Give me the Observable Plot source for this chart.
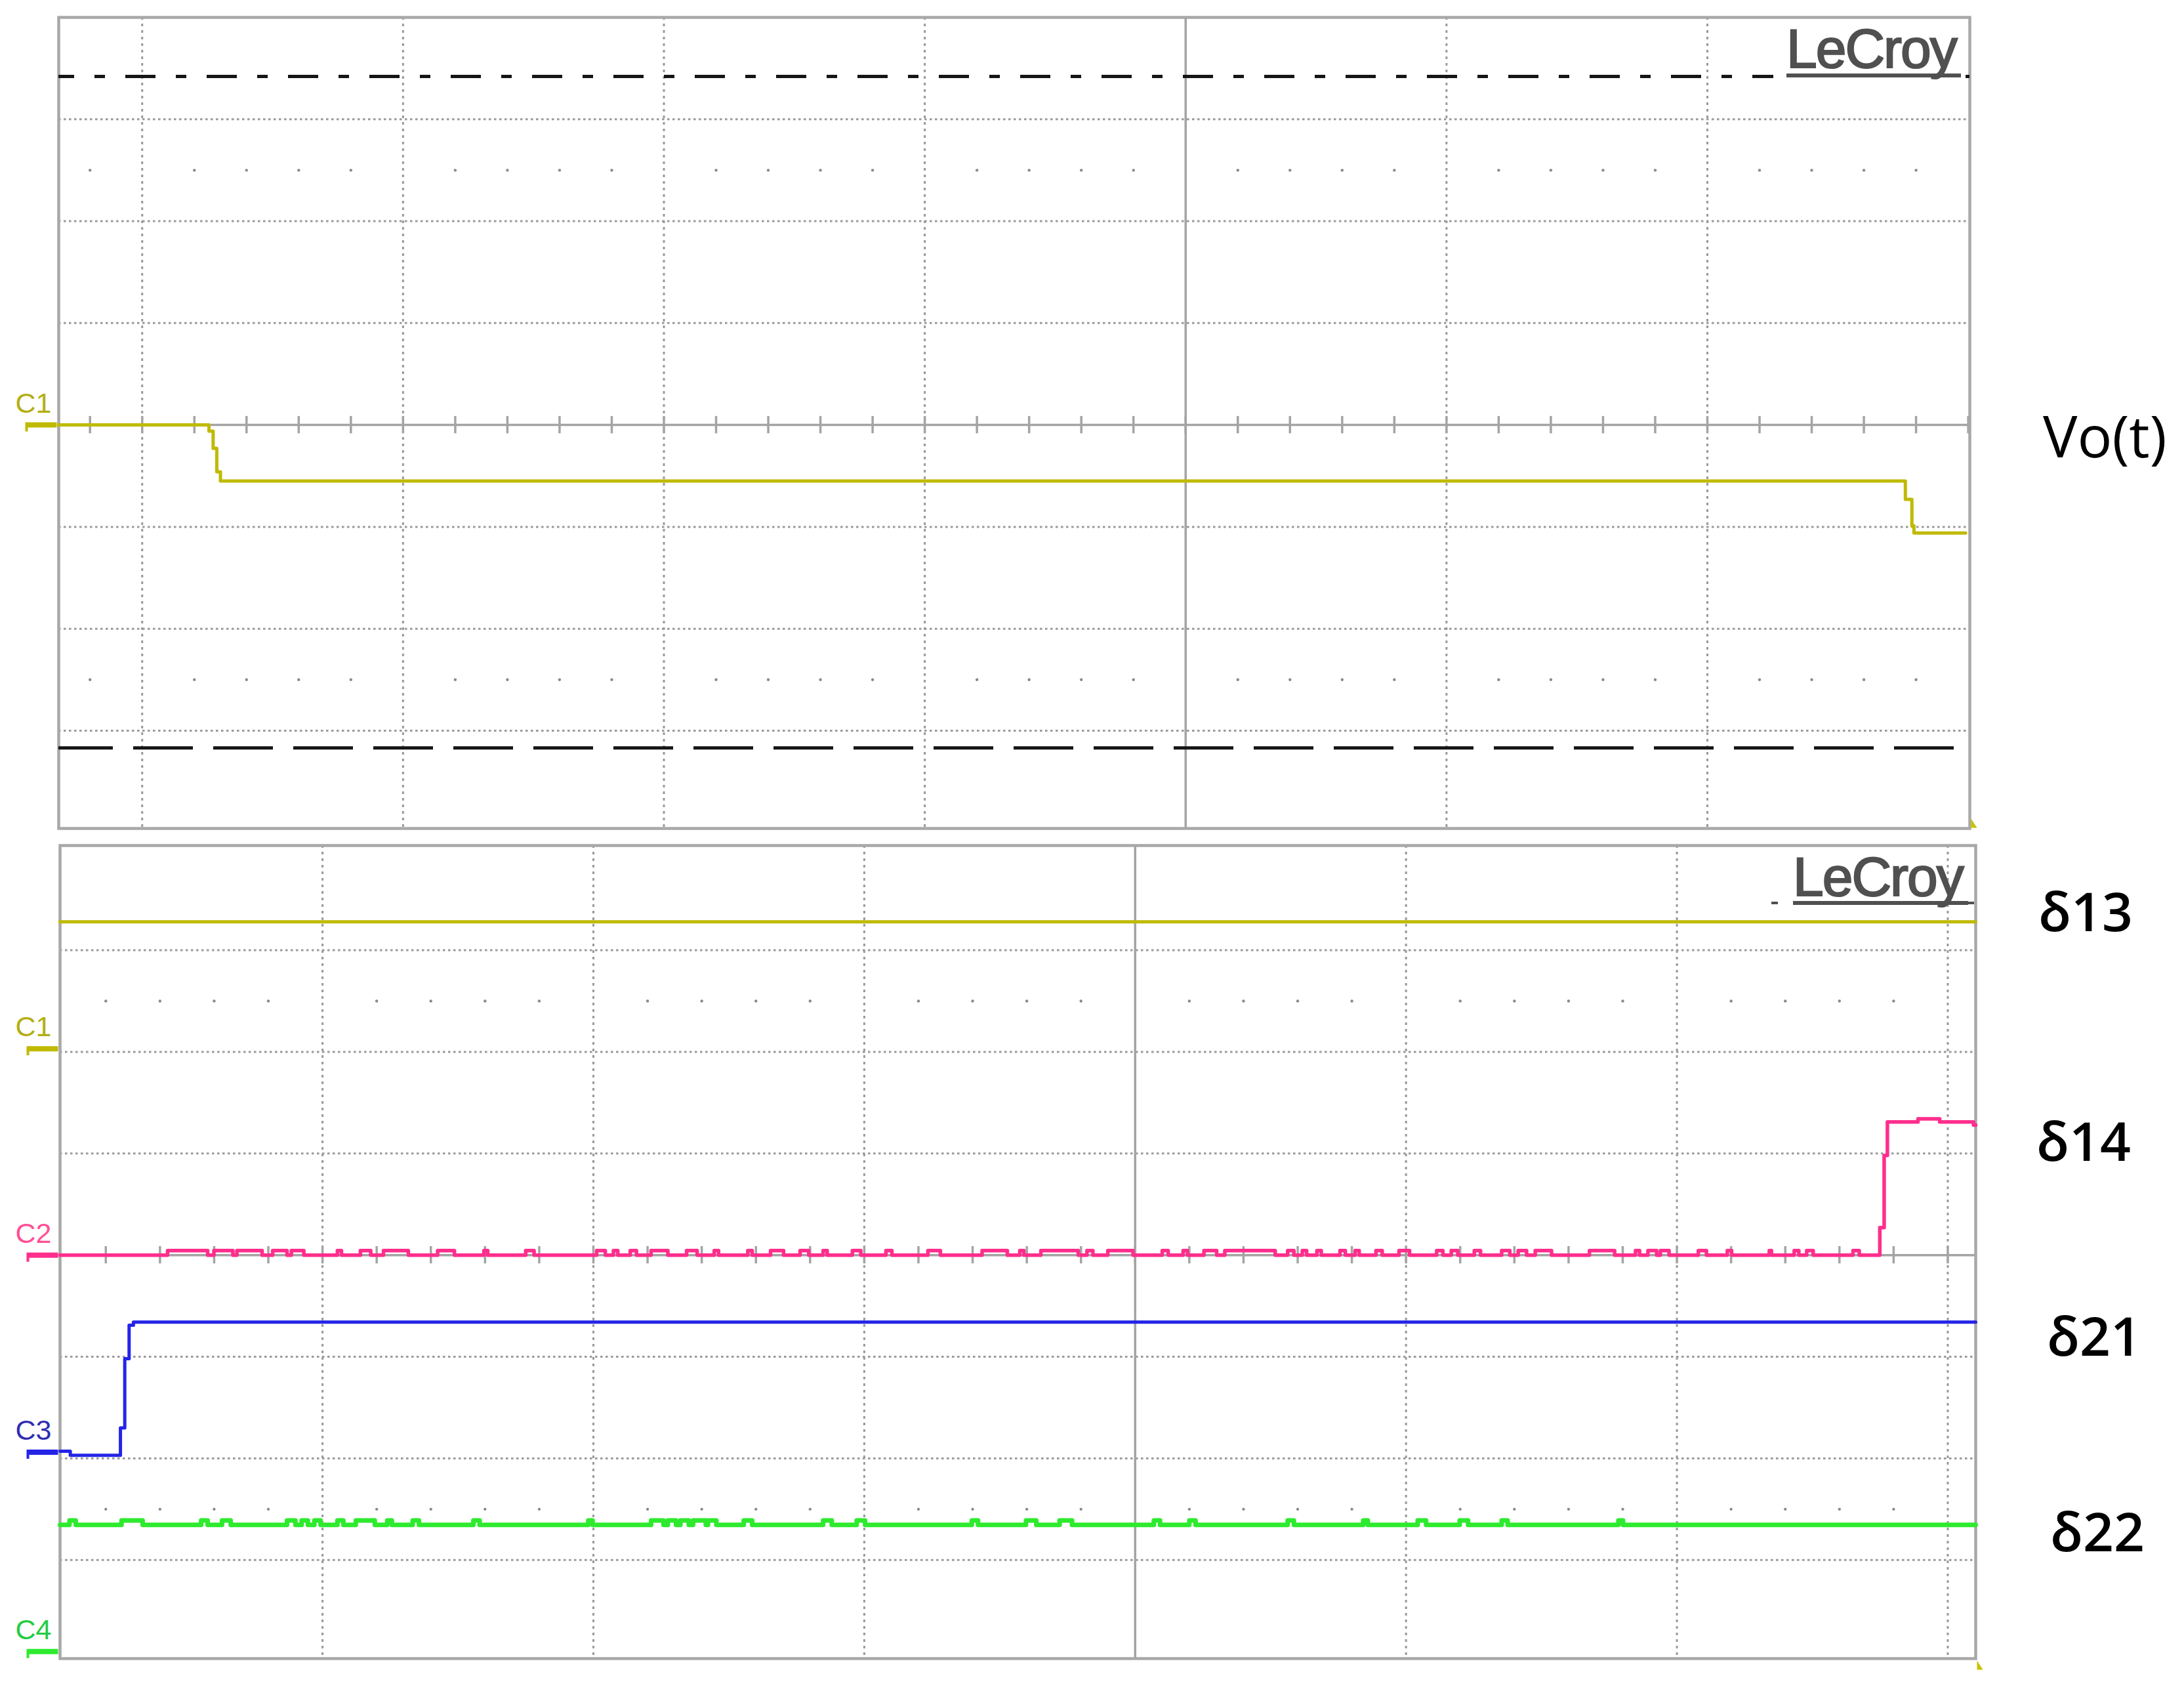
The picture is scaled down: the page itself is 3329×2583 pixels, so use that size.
<!DOCTYPE html>
<html>
<head>
<meta charset="utf-8">
<script src="https://cdn.jsdelivr.net/npm/d3@7"></script>
<script src="https://cdn.jsdelivr.net/npm/@observablehq/plot@0.6"></script>
<style>
html, body { margin: 0; padding: 0; background: #ffffff; }
#wrap { position: relative; width: 3329px; height: 2583px; overflow: hidden; background: #fff; }
</style>
</head>
<body>
<div id="wrap"></div>
<script>
// ---------------- data (screen divisions) ----------------
// upper screen: output voltage Vo(t), channel C1
const voTime  = [-4.32, -3.744, -3.728, -3.714, -3.700, 2.759, 2.784, 2.792, 2.99];
const voLevel = [0.00, -0.06, -0.23, -0.46, -0.55, -0.73, -0.99, -1.06, -1.06];
const cursorDashDot = 3.42;   // upper cursor level
const cursorDashed  = -3.17;  // lower cursor level

// lower screen: switching signals
const d13Time  = [-3.969, 3.103];
const d13Level = [3.28, 3.28];

const d14Base = 0.00, d14Bump = 0.045;
const d14Bumps = [
  [-3.572,-3.424],[-3.401,-3.331],[-3.316,-3.223],[-3.184,-3.131],[-3.115,-3.069],
  [-2.945,-2.930],[-2.860,-2.822],[-2.775,-2.683],[-2.575,-2.513],[-2.404,-2.390],
  [-2.250,-2.219],[-1.988,-1.956],[-1.926,-1.910],[-1.864,-1.841],[-1.787,-1.725],
  [-1.656,-1.617],[-1.554,-1.538],[-1.430,-1.414],[-1.346,-1.298],[-1.237,-1.205],
  [-1.152,-1.137],[-1.044,-1.013],[-0.920,-0.898],[-0.765,-0.719],[-0.565,-0.472],
  [-0.426,-0.411],[-0.348,-0.210],[-0.178,-0.156],[-0.101,-0.008],[0.100,0.122],
  [0.177,0.193],[0.254,0.301],[0.331,0.517],[0.563,0.586],[0.617,0.633],
  [0.671,0.687],[0.756,0.776],[0.812,0.827],[0.889,0.912],[0.974,1.013],
  [1.113,1.136],[1.167,1.191],[1.252,1.275],[1.353,1.383],[1.414,1.445],
  [1.477,1.537],[1.677,1.770],[1.847,1.862],[1.893,1.925],[1.939,1.971],
  [2.079,2.109],[2.186,2.202],[2.341,2.349],[2.433,2.450],[2.479,2.503],
  [2.650,2.673]
];
const d14StepTime  = [2.749, 2.765, 2.777, 2.890, 2.970, 3.095, 3.103];
const d14StepLevel = [0.27, 0.98, 1.31, 1.34, 1.31, 1.28, 1.28];

const d21Time  = [-3.969, -3.931, -3.746, -3.730, -3.714, -3.698, 3.103];
const d21Level = [-1.93, -1.97, -1.70, -1.02, -0.69, -0.66, -0.66];

const d22Base = -2.654, d22Bump = 0.043;
const d22Bumps = [
  [-3.934,-3.911],[-3.742,-3.664],[-3.448,-3.424],[-3.371,-3.339],[-3.131,-3.100],
  [-3.077,-3.054],[-3.030,-3.007],[-2.945,-2.923],[-2.877,-2.807],[-2.761,-2.744],
  [-2.667,-2.644],[-2.443,-2.420],[-2.019,-2.003],[-1.787,-1.741],[-1.725,-1.695],
  [-1.679,-1.648],[-1.632,-1.585],[-1.577,-1.546],[-1.445,-1.414],[-1.152,-1.120],
  [-1.028,-0.997],[-0.603,-0.580],[-0.403,-0.365],[-0.279,-0.233],[0.069,0.092],
  [0.200,0.223],[0.563,0.586],[0.842,0.859],[1.043,1.074],[1.198,1.229],
  [1.353,1.375],[1.784,1.801]
];

// channel ground markers
const topChannels = [{name: "C1", level: 0.00, color: "#b3ae12", trace: "#bfba00"}];
const bottomChannels = [
  {name: "C1", level: 2.03,  color: "#b3ae12", trace: "#bfba00"},
  {name: "C2", level: 0.00,  color: "#ff4f96", trace: "#ff2e8c"},
  {name: "C3", level: -1.94, color: "#2e2eb0", trace: "#2424e8"},
  {name: "C4", level: -3.90, color: "#22cc44", trace: "#2eea2e"}
];

// screen domains (divisions)
const X_TOP = [-4.32, 3.006], Y_TOP = [-3.96, 4.0];
const X_BOT = [-3.969, 3.103], Y_BOT = [-3.97, 4.03];

// ---------------- helpers ----------------
const zipTrace = (ts, vs) => ts.map((t, i) => ({t, v: vs[i]}));
function noisyTrace(t0, t1, base, h, bumps, tailT = [], tailV = []) {
  const pts = [{t: t0, v: base}];
  for (const [a, b] of bumps) { pts.push({t: a, v: base + h}); pts.push({t: b, v: base}); }
  tailT.forEach((t, i) => pts.push({t, v: tailV[i]}));
  pts.push({t: t1, v: tailV.length ? tailV[tailV.length - 1] : base});
  return pts;
}

const GRID = "#9a9a9a", SOLID = "#a4a4a4", FRAME = "#a8a8a8";
const chanMarker = {
  draw(ctx) {
    ctx.moveTo(-48, -4); ctx.lineTo(0, -4); ctx.lineTo(0, 4);
    ctx.lineTo(-44, 4); ctx.lineTo(-44, 10); ctx.lineTo(-48, 10); ctx.closePath();
  }
};
const trigMarker = {
  draw(ctx) { ctx.moveTo(0, -7); ctx.lineTo(9, 7); ctx.lineTo(0, 7); ctx.closePath(); }
};

function screenMarks(xd, yd) {
  const gx = d3.range(Math.ceil(xd[0]), Math.floor(xd[1]) + 1).filter(v => v !== 0 && v > xd[0] + 0.05 && v < xd[1] - 0.05);
  const gy = d3.range(Math.ceil(yd[0]), Math.floor(yd[1]) + 1).filter(v => v !== 0 && v > yd[0] + 0.05 && v < yd[1] - 0.05);
  const minor = d3.range(Math.ceil(xd[0] * 5), Math.floor(xd[1] * 5) + 1).map(v => v / 5);
  const dots = minor.filter(v => Math.abs(v - Math.round(v)) > 0.01)
    .flatMap(x => [{x, y: 2.5}, {x, y: -2.5}]);
  return [
    Plot.ruleX(gx, {stroke: GRID, strokeWidth: 3, strokeDasharray: "4,6"}),
    Plot.ruleY(gy, {stroke: GRID, strokeWidth: 3, strokeDasharray: "3.5,4.5"}),
    Plot.dot(dots, {x: "x", y: "y", r: 2.2, fill: "#8a8a8a", stroke: null}),
    Plot.ruleX([0], {stroke: SOLID, strokeWidth: 3.5}),
    Plot.ruleY([0], {stroke: SOLID, strokeWidth: 3.5}),
    Plot.ruleX(minor, {y1: -0.085, y2: 0.085, stroke: SOLID, strokeWidth: 3.5}),
    Plot.frame({stroke: FRAME, strokeWidth: 4.5})
  ];
}

function channelMarks(chans, dx) {
  return chans.flatMap(c => [
    Plot.dot([c], {y: "level", frameAnchor: "left", dx: -3, symbol: chanMarker, fill: c.trace, stroke: null}),
    Plot.text([c], {y: "level", text: "name", frameAnchor: "left", textAnchor: "start",
      lineAnchor: "bottom", dx: dx, dy: -19, fill: c.color, fontSize: 43,
      fontFamily: "Liberation Sans, Arial, sans-serif"})
  ]);
}

const wrap = document.getElementById("wrap");
function place(el, top) {
  el.style.position = "absolute"; el.style.left = "0px"; el.style.top = top + "px";
  wrap.appendChild(el);
}

// ---------------- upper screen ----------------
const topPlot = Plot.plot({
  width: 3329, height: 1275,
  marginLeft: 89, marginRight: 327, marginTop: 26, marginBottom: 13,
  x: {domain: X_TOP, axis: null},
  y: {domain: Y_TOP, axis: null},
  style: {background: "transparent", overflow: "visible"},
  marks: [
    ...screenMarks(X_TOP, Y_TOP),
    Plot.ruleY([cursorDashDot], {stroke: "#151515", strokeWidth: 5, strokeDasharray: "46,31,16,31", strokeDashoffset: 22}),
    Plot.ruleY([cursorDashed], {stroke: "#151515", strokeWidth: 5, strokeDasharray: "91,31", strokeDashoffset: 8}),
    Plot.line(zipTrace(voTime, voLevel), {x: "t", y: "v", curve: "step-after", stroke: "#bfba00", strokeWidth: 5}),
    Plot.dot([Y_TOP[0]], {y: d => d, frameAnchor: "right", dx: 2, dy: -8, symbol: trigMarker, fill: "#c8c200", stroke: null}),
    ...channelMarks(topChannels, -66)
  ]
});
place(topPlot, 0);

// ---------------- lower screen ----------------
const bottomPlot = Plot.plot({
  width: 3329, height: 1308,
  marginLeft: 91, marginRight: 318, marginTop: 13, marginBottom: 56,
  x: {domain: X_BOT, axis: null},
  y: {domain: Y_BOT, axis: null},
  style: {background: "transparent", overflow: "visible"},
  marks: [
    ...screenMarks(X_BOT, Y_BOT),
    Plot.line(zipTrace(d13Time, d13Level), {x: "t", y: "v", curve: "step-after", stroke: "#bfba00", strokeWidth: 5}),
    Plot.line(noisyTrace(X_BOT[0], X_BOT[1], d14Base, d14Bump, d14Bumps, d14StepTime, d14StepLevel),
      {x: "t", y: "v", curve: "step-after", stroke: "#ff2e8c", strokeWidth: 5.5}),
    Plot.line(zipTrace(d21Time, d21Level), {x: "t", y: "v", curve: "step-after", stroke: "#2424e8", strokeWidth: 5}),
    Plot.line(noisyTrace(X_BOT[0], X_BOT[1], d22Base, d22Bump, d22Bumps),
      {x: "t", y: "v", curve: "step-after", stroke: "#2eea2e", strokeWidth: 7}),
    Plot.dot([Y_BOT[0]], {y: d => d, frameAnchor: "right", dx: 2, dy: 10, symbol: trigMarker, fill: "#c8c200", stroke: null}),
    ...channelMarks(bottomChannels, -68)
  ]
});
place(bottomPlot, 1275);

// ---------------- annotations ----------------
const ann = d3.create("svg").attr("width", 3329).attr("height", 2583)
  .style("position", "absolute").style("left", "0px").style("top", "0px");
const badge = (x, y) => {
  ann.append("text").attr("x", x).attr("y", y).text("LeCroy")
    .attr("font-family", "Liberation Sans, Arial, sans-serif").attr("font-size", 84)
    .attr("letter-spacing", -2).attr("fill", "#505050")
    .attr("stroke", "#505050").attr("stroke-width", 2.2);
};
// LeCroy badge, upper screen
ann.append("rect").attr("x", 2703).attr("y", 31).attr("width", 293).attr("height", 90).attr("fill", "#fff");
badge(2723, 103);
ann.append("rect").attr("x", 2723).attr("y", 112).attr("width", 266).attr("height", 6).attr("fill", "#505050");
// LeCroy badge, lower screen
badge(2733, 1365);
ann.append("rect").attr("x", 2733).attr("y", 1373).attr("width", 267).attr("height", 6).attr("fill", "#505050");
ann.append("rect").attr("x", 2700).attr("y", 1374).attr("width", 10).attr("height", 4).attr("fill", "#505050");
ann.append("rect").attr("x", 2999).attr("y", 1374).attr("width", 10).attr("height", 4).attr("fill", "#505050");
// signal names
const names = [
  {t: "Vo(t)", x: 3114, y: 697, s: 88, w: 400},
  {t: "δ13", x: 3107, y: 1419, s: 82, w: 600},
  {t: "δ14", x: 3104, y: 1769, s: 82, w: 600},
  {t: "δ21", x: 3120, y: 2066, s: 82, w: 600},
  {t: "δ22", x: 3125, y: 2364, s: 82, w: 600}
];
for (const n of names) {
  ann.append("text").attr("x", n.x).attr("y", n.y).text(n.t)
    .attr("font-family", "Open Sans, Noto Sans, sans-serif").attr("font-size", n.s)
    .attr("font-weight", n.w).attr("fill", "#000");
}
wrap.appendChild(ann.node());
</script>
</body>
</html>
